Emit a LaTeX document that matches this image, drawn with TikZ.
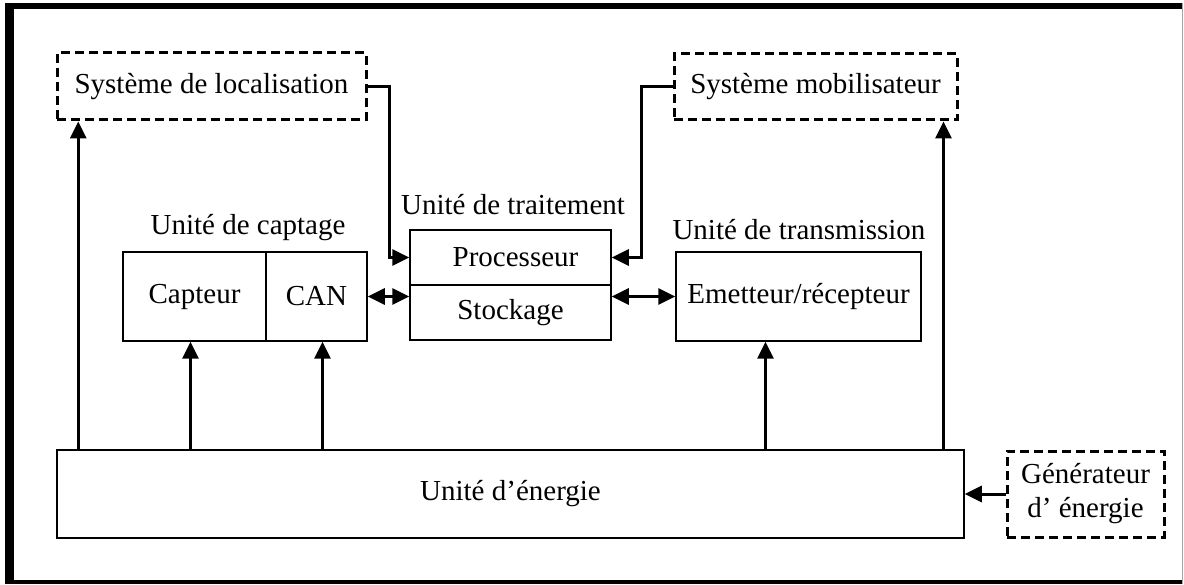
\documentclass[tikz,border=0pt]{standalone}
\usepackage{fontspec}
\setmainfont{Liberation Serif}
\usetikzlibrary{arrows.meta}
\begin{document}
\begin{tikzpicture}[x=1pt,y=-1pt,
  txt/.style={font=\fontsize{29}{34}\selectfont},
  box/.style={txt,draw,rectangle,line width=1.5pt,inner sep=0pt,align=center},
  dbox/.style={box,line width=3pt,dash pattern=on 9pt off 5pt},
  lbl/.style={txt,inner sep=0pt},
  tip/.tip={Triangle[length=17pt,width=16pt]},
  arr/.style={line width=3pt,-tip},
  darr/.style={line width=3pt,tip-tip}]
\useasboundingbox (0,0) rectangle (1184,585);

% outer frame
\fill (5,3) rectangle (14,584);
\fill (5,3) rectangle (1182,9);
\fill (5,580) rectangle (1182,584);
\draw[black!35,line width=1pt] (1182,3) -- (1182,584);

% external systems (dashed)
\node[dbox,minimum width=309pt,minimum height=67pt] (loc) at (211.5,86.5) {Système de localisation};
\node[dbox,minimum width=283pt,minimum height=66pt] (mob) at (815.5,87) {Système mobilisateur};
\node[dbox,minimum width=157pt,minimum height=86pt] (gen) at (1085.5,494) {Générateur\\d’ énergie};

% processing unit
\node[box,minimum width=201pt,minimum height=55pt] (proc) at (510.5,257.5) {\hspace*{10pt}Processeur};
\node[box,minimum width=201pt,minimum height=55pt] (stock) at (510.5,312.5) {Stockage};
\node[lbl] (ltrait) at (513,205) {Unité de traitement};

% sensing unit
\node[box,minimum width=143pt,minimum height=89pt] (capt) at (194.5,296.5) {Capteur};
\node[box,minimum width=101pt,minimum height=89pt] (can) at (316.5,296.5) {CAN};
\node[lbl] (lcapt) at (248,228) {Unité de captage};

% transmission unit
\node[box,minimum width=245pt,minimum height=89pt] (emet) at (798.5,296.5) {Emetteur/récepteur};
\node[lbl] (ltrans) at (799,230) {Unité de transmission};

% power unit
\node[box,minimum width=907pt,minimum height=88pt] (energie) at (510.5,494) {Unité d’énergie};

% control links to the processor
\draw[arr] (loc.east) -- ++(22,0) |- (proc.west);
\draw[arr] (mob.west) -- ++(-31,0) |- (proc.east);

% data links
\draw[darr] (can.east) -- (can.east -| stock.west);
\draw[darr] (emet.west -| stock.east) -- (emet.west);

% power supply links
\draw[arr] ([xshift=22pt]energie.north west) -- ([xshift=22pt]energie.north west |- loc.south);
\draw[arr] ([xshift=-4pt]capt.south |- energie.north) -- ([xshift=-4pt]capt.south);
\draw[arr] ([xshift=6pt]can.south |- energie.north) -- ([xshift=6pt]can.south);
\draw[arr] ([xshift=-33pt]emet.south |- energie.north) -- ([xshift=-33pt]emet.south);
\draw[arr] ([xshift=-15pt]mob.south east |- energie.north) -- ([xshift=-15pt]mob.south east);
\draw[arr] (gen.west) -- (gen.west -| energie.east);
\end{tikzpicture}
\end{document}
